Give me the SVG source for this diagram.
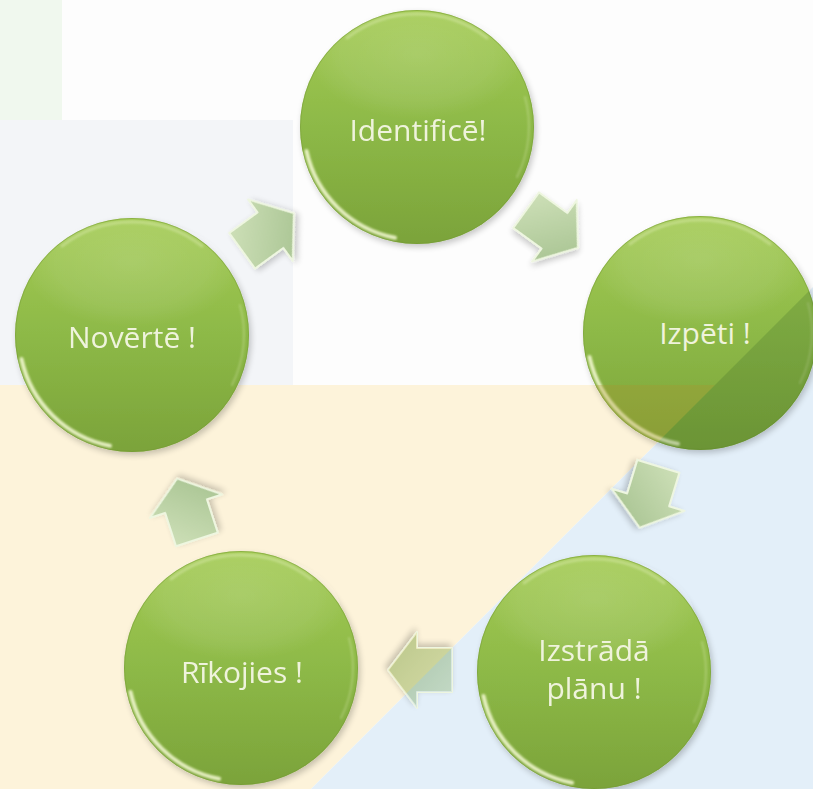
<svg xmlns="http://www.w3.org/2000/svg" width="813" height="789" viewBox="0 0 813 789">
<style>
.lbl{font-family:"Open Sans","Noto Sans","Liberation Sans",sans-serif;font-size:30px;fill:#eff3dc;text-anchor:middle}
.rim{fill:none;stroke:#f6fbd6;stroke-width:4;stroke-linecap:round;opacity:.85}
.edge{fill:none;stroke:#739a34;stroke-width:1;opacity:.5}
.arrow{fill:url(#ag);stroke:#eef6e0;stroke-width:2;stroke-linejoin:round}
</style>
<defs>
<linearGradient id="cg" x1="0" y1="0" x2="0" y2="1">
<stop offset="0" stop-color="#a4cb55"/>
<stop offset="0.5" stop-color="#8db947"/>
<stop offset="1" stop-color="#7ba33a"/>
</linearGradient>
<radialGradient id="hg" cx="0.5" cy="0.35" r="0.55">
<stop offset="0" stop-color="#ffffff" stop-opacity="0.14"/>
<stop offset="0.7" stop-color="#ffffff" stop-opacity="0.08"/>
<stop offset="1" stop-color="#ffffff" stop-opacity="0"/>
</radialGradient>
<linearGradient id="ag" x1="0" y1="0" x2="1" y2="1">
<stop offset="0" stop-color="#d2e3bc"/>
<stop offset="1" stop-color="#a2bf8c"/>
</linearGradient>
<filter id="sh" x="-20%" y="-20%" width="140%" height="140%">
<feGaussianBlur in="SourceAlpha" stdDeviation="3"/>
<feOffset dx="2" dy="3"/>
<feComponentTransfer><feFuncA type="linear" slope="0.22"/></feComponentTransfer>
<feMerge><feMergeNode/><feMergeNode in="SourceGraphic"/></feMerge>
</filter>
<filter id="bl"><feGaussianBlur stdDeviation="1"/></filter>
<g id="ball">
<circle r="117" fill="url(#cg)"/>
<ellipse cx="0" cy="-55" rx="100" ry="60" fill="url(#hg)"/>
<circle r="116.5" class="edge"/>
<path class="rim" filter="url(#bl)" d="M -110.5 24 A 113 113 0 0 0 -22 110.8"/>
<path class="rim" style="opacity:.3;stroke-width:3" filter="url(#bl)" d="M -70 -89 A 114 114 0 0 1 70 -89"/>
<path class="rim" style="opacity:.25;stroke-width:2" filter="url(#bl)" d="M 108 -30 A 112 112 0 0 1 100 50"/>
</g>
<path id="arr" d="M -32 -22 L 3 -22 L 3 -38 L 32 0 L 3 38 L 3 22 L -32 22 Z"/>
<clipPath id="c2"><circle cx="700" cy="333" r="117"/></clipPath>
<clipPath id="c4"><use href="#arr" transform="translate(420 670) rotate(180)"/></clipPath>
</defs>

<g id="background">
<rect width="813" height="789" fill="#fdfdfd"/>
<rect x="0" y="0" width="62" height="120" fill="#f0f8ee"/>
<rect x="0" y="120" width="293" height="265" fill="#f3f5f8"/>
<polygon points="0,385 715,385 311,789 0,789" fill="#fdf3da"/>
<polygon points="813,287 813,789 311,789" fill="#e3eff9"/>
</g>

<g id="connectors">
<use href="#arr" class="arrow" filter="url(#sh)" transform="translate(268 232) rotate(-36)"/>
<use href="#arr" class="arrow" filter="url(#sh)" transform="translate(552 229) rotate(36)"/>
<use href="#arr" class="arrow" filter="url(#sh)" transform="translate(649 497) rotate(107)"/>
<use href="#arr" class="arrow" filter="url(#sh)" transform="translate(420 670) rotate(180)"/>
<use href="#arr" class="arrow" filter="url(#sh)" transform="translate(187 509) rotate(-108)"/>
<g clip-path="url(#c4)">
<polygon points="0,385 715,385 311,789 0,789" fill="#e6d488" opacity="0.35"/>
<polygon points="813,287 813,789 311,789" fill="#a8c8e0" opacity="0.3"/>
</g>
</g>

<g id="node-identifice" filter="url(#sh)">
<use href="#ball" transform="translate(417 127)"/>
<text class="lbl" x="418" y="141">Identificē!</text>
</g>

<g id="node-izpeti">
<g filter="url(#sh)"><use href="#ball" transform="translate(700 333)"/></g>
<g clip-path="url(#c2)">
<polygon points="0,385 715,385 311,789 0,789" fill="#b0902c" opacity="0.28"/>
<polygon points="813,287 813,789 311,789" fill="#2e5a22" opacity="0.2"/>
</g>
<text class="lbl" x="705" y="344">Izpēti !</text>
</g>

<g id="node-izstrada" filter="url(#sh)">
<use href="#ball" transform="translate(594 672)"/>
<text class="lbl" x="594" y="661">Izstrādā</text>
<text class="lbl" x="594" y="699">plānu !</text>
</g>

<g id="node-rikojies" filter="url(#sh)">
<use href="#ball" transform="translate(241 668)"/>
<text class="lbl" x="242" y="683">Rīkojies !</text>
</g>

<g id="node-noverte" filter="url(#sh)">
<use href="#ball" transform="translate(132 335)"/>
<text class="lbl" x="132" y="348">Novērtē !</text>
</g>
</svg>
